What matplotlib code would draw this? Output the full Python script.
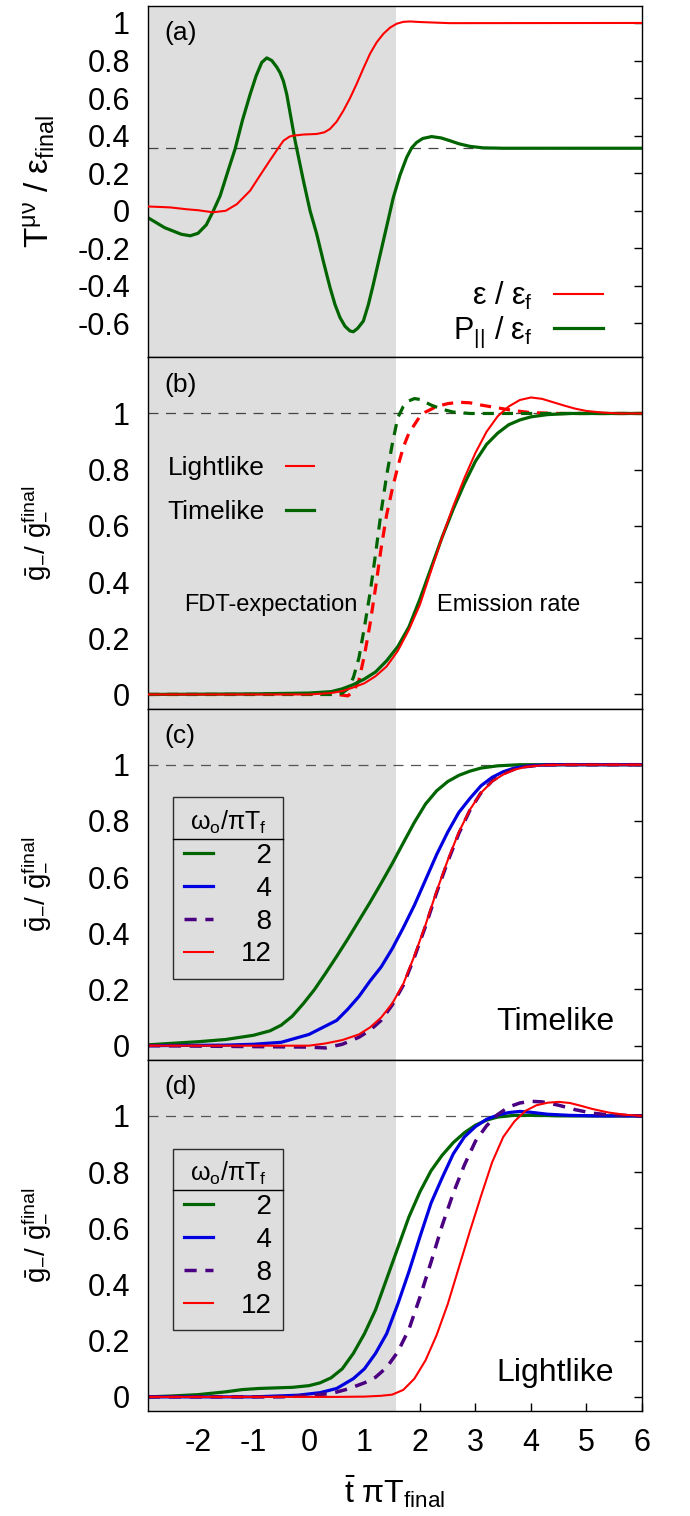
import matplotlib
matplotlib.use('Agg')
import matplotlib.pyplot as plt
from matplotlib.lines import Line2D

plt.rcParams['font.family'] = ['Liberation Sans', 'DejaVu Sans']
plt.rcParams['mathtext.fontset'] = 'custom'
plt.rcParams['mathtext.rm'] = 'Liberation Sans'
plt.rcParams['mathtext.it'] = 'Liberation Sans'
plt.rcParams['axes.unicode_minus'] = False

# ---- data ----
x_range = [-2.9, 6.0]
shade_end = 1.57
ref_a = 1 / 3
ref_bcd = 1.0

# (a) stress tensor components
eps_x = [-2.9, -2.5, -2.2, -2.0, -1.73, -1.5, -1.3, -1.06, -0.9, -0.7, -0.55, -0.46, -0.35, -0.28, -0.1,
         0.14, 0.28, 0.38, 0.5, 0.62, 0.74, 0.86, 0.98, 1.1, 1.22, 1.34, 1.46, 1.58, 1.7, 1.82, 2.0, 2.54, 6.0]
eps_y = [0.023, 0.018, 0.008, 0.003, -0.008, 0.0, 0.035, 0.107, 0.18, 0.27, 0.335, 0.373, 0.395, 0.4, 0.406,
         0.409, 0.418, 0.436, 0.475, 0.533, 0.6, 0.676, 0.758, 0.836, 0.897, 0.942, 0.975, 0.996, 1.006,
         1.008, 1.005, 0.999, 1.0]
pl_x = [-2.9, -2.6, -2.3, -2.14, -2.0, -1.85, -1.73, -1.6, -1.45, -1.33, -1.2, -1.06, -0.95, -0.85, -0.76,
        -0.67, -0.58, -0.52, -0.46, -0.4, -0.25, -0.1, 0.02, 0.14, 0.26, 0.38, 0.47, 0.56, 0.65, 0.74, 0.8,
        0.88, 0.98, 1.07, 1.16, 1.25, 1.34, 1.43, 1.52, 1.64, 1.76, 1.85, 1.94, 2.05, 2.21, 2.38, 2.54, 2.7,
        2.9, 3.14, 3.5, 6.0]
pl_y = [-0.037, -0.09, -0.125, -0.133, -0.12, -0.075, -0.005, 0.08, 0.22, 0.33, 0.48, 0.62, 0.72, 0.79,
        0.814, 0.8, 0.765, 0.735, 0.69, 0.62, 0.373, 0.16, 0.0, -0.124, -0.27, -0.409, -0.5, -0.569, -0.615,
        -0.64, -0.644, -0.625, -0.587, -0.5, -0.391, -0.275, -0.16, -0.045, 0.071, 0.19, 0.284, 0.335,
        0.364, 0.385, 0.395, 0.388, 0.373, 0.357, 0.343, 0.335, 0.333, 0.333]

# (b) FDT expectation (dashed) and emission rate (solid)
fdt_time_x = [-2.9, 0.4, 0.6, 0.7, 0.8, 0.9, 1.0, 1.1, 1.2, 1.3, 1.4, 1.5, 1.6, 1.7, 1.8, 1.9, 2.0, 2.2,
              2.4, 2.6, 2.9, 6.0]
fdt_time_y = [0.0, 0.0, 0.005, 0.02, 0.06, 0.13, 0.24, 0.36, 0.5, 0.65, 0.78, 0.89, 0.985, 1.025, 1.045,
              1.053, 1.05, 1.03, 1.015, 1.005, 1.0, 1.0]
fdt_light_x = [-2.9, 0.5, 0.7, 0.8, 0.9, 1.0, 1.1, 1.2, 1.3, 1.4, 1.5, 1.6, 1.7, 1.8, 1.9, 2.0, 2.1, 2.3,
               2.5, 2.7, 2.9, 3.1, 3.4, 3.7, 4.0, 4.5, 6.0]
fdt_light_y = [0.0, 0.0, -0.005, 0.01, 0.05, 0.14, 0.25, 0.38, 0.52, 0.64, 0.73, 0.81, 0.88, 0.93, 0.96,
               0.99, 1.005, 1.025, 1.035, 1.04, 1.038, 1.03, 1.02, 1.01, 1.003, 1.0, 1.0]
em_time_x = [-2.9, -1.0, 0.0, 0.4, 0.6, 0.8, 1.0, 1.2, 1.4, 1.6, 1.8, 2.0, 2.2, 2.4, 2.6, 2.8, 3.0, 3.2,
             3.4, 3.6, 3.8, 4.0, 4.3, 4.7, 6.0]
em_time_y = [0.0, 0.002, 0.005, 0.01, 0.02, 0.035, 0.055, 0.08, 0.12, 0.17, 0.24, 0.34, 0.45, 0.56, 0.66,
             0.75, 0.83, 0.89, 0.93, 0.96, 0.977, 0.988, 0.996, 1.0, 1.0]
em_light_x = [-2.9, 0.0, 0.4, 0.6, 0.8, 1.0, 1.2, 1.4, 1.6, 1.8, 2.0, 2.2, 2.4, 2.6, 2.8, 3.0, 3.2, 3.4,
              3.6, 3.8, 4.0, 4.2, 4.4, 4.6, 4.8, 5.0, 5.3, 5.6, 6.0]
em_light_y = [0.0, 0.0, 0.005, 0.012, 0.025, 0.04, 0.065, 0.1, 0.155, 0.23, 0.32, 0.44, 0.56, 0.67, 0.77,
              0.86, 0.935, 0.99, 1.025, 1.048, 1.057, 1.052, 1.04, 1.028, 1.017, 1.009, 1.003, 1.0, 1.0]

# (c) timelike, several omega_o / pi T_f
omegas = ['2', '4', '8', '12']
tl_x = [
    [-2.9, -2.5, -2.0, -1.5, -1.0, -0.7, -0.5, -0.3, -0.1, 0.1, 0.3, 0.5, 0.7, 0.9, 1.1, 1.3, 1.5, 1.7,
     1.9, 2.1, 2.3, 2.5, 2.7, 2.9, 3.1, 3.4, 3.8, 6.0],
    [-2.9, -1.5, -1.0, -0.5, 0.0, 0.2, 0.5, 0.7, 0.9, 1.1, 1.3, 1.5, 1.7, 1.9, 2.1, 2.3, 2.5, 2.7, 2.9,
     3.1, 3.3, 3.5, 3.7, 4.0, 4.4, 6.0],
    [-2.9, 0.0, 0.3, 0.6, 0.9, 1.1, 1.3, 1.5, 1.7, 1.9, 2.1, 2.3, 2.5, 2.7, 2.9, 3.1, 3.3, 3.5, 3.7, 3.9,
     4.2, 4.6, 6.0],
    [-2.9, 0.0, 0.3, 0.6, 0.9, 1.1, 1.3, 1.5, 1.7, 1.9, 2.1, 2.3, 2.5, 2.7, 2.9, 3.1, 3.3, 3.5, 3.7, 3.9,
     4.2, 4.6, 6.0],
]
tl_y = [
    [0.003, 0.008, 0.014, 0.022, 0.037, 0.053, 0.073, 0.105, 0.15, 0.2, 0.258, 0.318, 0.38, 0.445, 0.51,
     0.578, 0.648, 0.722, 0.795, 0.86, 0.907, 0.94, 0.962, 0.977, 0.988, 0.996, 1.0, 1.0],
    [0.0, 0.002, 0.005, 0.012, 0.04, 0.06, 0.09, 0.13, 0.175, 0.23, 0.28, 0.345, 0.42, 0.5, 0.59, 0.68,
     0.76, 0.83, 0.88, 0.925, 0.955, 0.975, 0.988, 0.997, 1.0, 1.0],
    [0.0, -0.005, -0.008, 0.005, 0.03, 0.055, 0.09, 0.145, 0.215, 0.315, 0.425, 0.545, 0.655, 0.755,
     0.838, 0.9, 0.942, 0.968, 0.984, 0.993, 0.999, 1.0, 1.0],
    [0.0, 0.0, 0.008, 0.02, 0.04, 0.065, 0.1, 0.15, 0.22, 0.32, 0.43, 0.55, 0.66, 0.76, 0.84, 0.9, 0.94,
     0.965, 0.982, 0.992, 0.998, 1.0, 1.0],
]

# (d) lightlike, same omegas
ll_x = [
    [-2.9, -2.5, -2.0, -1.5, -1.2, -0.9, -0.6, -0.3, 0.0, 0.2, 0.4, 0.6, 0.8, 1.0, 1.2, 1.4, 1.6, 1.8,
     2.0, 2.2, 2.4, 2.6, 2.8, 3.0, 3.2, 3.4, 3.7, 4.1, 4.6, 6.0],
    [-2.9, -1.0, -0.2, 0.2, 0.5, 0.8, 1.0, 1.2, 1.4, 1.6, 1.8, 2.0, 2.2, 2.4, 2.6, 2.8, 3.0, 3.2, 3.4,
     3.6, 3.8, 4.0, 4.3, 4.7, 5.2, 6.0],
    [-2.9, -0.5, 0.0, 0.4, 0.7, 1.0, 1.2, 1.4, 1.6, 1.8, 2.0, 2.2, 2.4, 2.6, 2.8, 3.0, 3.2, 3.4, 3.6,
     3.8, 4.0, 4.2, 4.5, 4.8, 5.1, 5.4, 6.0],
    [-2.9, 0.5, 1.0, 1.3, 1.5, 1.7, 1.9, 2.1, 2.3, 2.5, 2.7, 2.9, 3.1, 3.3, 3.5, 3.7, 3.9, 4.1, 4.3,
     4.5, 4.7, 4.9, 5.1, 5.4, 5.7, 6.0],
]
ll_y = [
    [0.0, 0.003, 0.008, 0.018, 0.026, 0.03, 0.032, 0.034, 0.04, 0.05, 0.068, 0.1, 0.155, 0.225, 0.31,
     0.42, 0.53, 0.64, 0.73, 0.805, 0.86, 0.905, 0.94, 0.967, 0.985, 0.996, 1.002, 1.002, 1.0, 1.0],
    [0.0, 0.0, 0.006, 0.015, 0.03, 0.065, 0.1, 0.155, 0.225, 0.33, 0.445, 0.57, 0.69, 0.78, 0.865, 0.925,
     0.962, 0.988, 1.003, 1.012, 1.016, 1.013, 1.006, 1.002, 1.0, 1.0],
    [0.0, 0.0, 0.005, 0.012, 0.028, 0.05, 0.07, 0.105, 0.16, 0.24, 0.355, 0.48, 0.61, 0.725, 0.825, 0.91,
     0.965, 1.005, 1.032, 1.046, 1.052, 1.05, 1.038, 1.022, 1.01, 1.004, 1.0],
    [0.0, 0.0, 0.001, 0.004, 0.008, 0.025, 0.065, 0.13, 0.22, 0.33, 0.46, 0.59, 0.715, 0.835, 0.925, 0.98,
     1.018, 1.038, 1.047, 1.05, 1.046, 1.036, 1.025, 1.012, 1.004, 1.0],
]

# ---- styling ----
red = '#ff0000'
green = '#006400'
blue = '#0000e0'
purple = '#4b0082'
shade = '#dedede'
omega_colors = [green, blue, purple, red]
omega_widths = [2.3, 2.3, 2.5, 1.5]
omega_styles = ['-', '-', (0, (3.5, 2.5)), '-']
omega_labels = ['  2', '  4', '  8', '12']

fig, axes = plt.subplots(4, 1, sharex=True, figsize=(6.9, 15.16), dpi=100,
                         gridspec_kw=dict(hspace=0))
fig.subplots_adjust(left=0.2145, right=0.9304, top=0.996, bottom=0.0693)
ax_a, ax_b, ax_c, ax_d = axes

for ax, lbl in zip(axes, ['(a)', '(b)', '(c)', '(d)']):
    ax.set_axisbelow(True)
    ax.axvspan(x_range[0], shade_end, color=shade, lw=0, zorder=1)
    ax.tick_params(direction='in', length=6, width=1, right=True, top=False,
                   labelsize=22, pad=13)
    ax.tick_params(axis='x', bottom=False, labelbottom=False)
    for sp in ax.spines.values():
        sp.set_linewidth(1.0)
    ax.set_xlim(x_range)
    ax.text(0.033, 0.922, lbl, transform=ax.transAxes, fontsize=19, ha='left', va='center')

# panel a
ax_a.axhline(ref_a, color='#444444', lw=0.9, ls=(0, (8, 6)), zorder=1.5)
ax_a.plot(eps_x, eps_y, color=red, lw=1.5, label=r'$\mathregular{ε\ /\ ε_f}$', zorder=3)
ax_a.plot(pl_x, pl_y, color=green, lw=2.3, label=r'$\mathregular{P_{||}\ /\ ε_f}$', zorder=2)
ax_a.set_ylim(-0.78, 1.09)
ax_a.set_yticks([-0.6, -0.4, -0.2, 0, 0.2, 0.4, 0.6, 0.8, 1])
ax_a.set_yticklabels(['-0.6', '-0.4', '-0.2', '0', '0.2', '0.4', '0.6', '0.8', '1'])
ax_a.set_ylabel(r'$\mathregular{T^{μν}\ /\ ε_{final}}$', fontsize=24)
ax_a.yaxis.set_label_coords(-0.184, 0.5)
ax_a.legend(loc='lower right', bbox_to_anchor=(0.921, 0.02), frameon=False, markerfirst=False,
            fontsize=22, handlelength=1.6, handletextpad=0.7, labelspacing=0.1,
            borderpad=0, borderaxespad=0)

# panel b
ax_b.axhline(ref_bcd, color='#444444', lw=0.9, ls=(0, (8, 6)), zorder=1.5)
ax_b.plot(fdt_light_x, fdt_light_y, color=red, lw=2.3, ls=(0, (3.5, 2.5)), zorder=2)
ax_b.plot(fdt_time_x, fdt_time_y, color=green, lw=2.3, ls=(0, (3.5, 2.5)), zorder=2)
ax_b.plot(em_light_x, em_light_y, color=red, lw=1.5, label='Lightlike', zorder=3)
ax_b.plot(em_time_x, em_time_y, color=green, lw=2.3, label='Timelike', zorder=2)
ax_b.legend(loc='upper left', bbox_to_anchor=(0.04, 0.719), frameon=False, markerfirst=False,
            fontsize=19, handlelength=1.05, handletextpad=0.8, labelspacing=0.75,
            borderpad=0, borderaxespad=0)
ax_b.text(-0.68, 0.32, 'FDT-expectation', fontsize=17, ha='center', va='center')
ax_b.text(3.6, 0.32, 'Emission rate', fontsize=17, ha='center', va='center')

# panels c and d
legends = []
for ax, xs, ys, name in [(ax_c, tl_x, tl_y, 'Timelike'), (ax_d, ll_x, ll_y, 'Lightlike')]:
    ax.axhline(ref_bcd, color='#555555', lw=0.9, ls=(0, (8, 6)), zorder=1.5)
    for i in range(len(omegas)):
        ax.plot(xs[i], ys[i], color=omega_colors[i], lw=omega_widths[i], ls=omega_styles[i],
                label=omega_labels[i], zorder=2 + (i == 3) * 0.5)
    leg = ax.legend(loc='upper left', bbox_to_anchor=(0.0506, 0.747), title=r'$\mathregular{ω_o/πT_f}$',
                    title_fontsize=18, fontsize=20, frameon=True, fancybox=False, edgecolor='black',
                    facecolor='none', handlelength=1.05, handletextpad=1.0,
                    labelspacing=0.25, borderpad=0.4, borderaxespad=0)
    leg.get_frame().set_linewidth(1.0)
    legends.append(leg)
    ax.text(5.5, 0.085, name, fontsize=23, ha='right', va='center')

for ax in [ax_b, ax_c, ax_d]:
    ax.set_ylim(-0.05, 1.2)
    ax.set_yticks([0, 0.2, 0.4, 0.6, 0.8, 1])
    ax.set_yticklabels(['0', '0.2', '0.4', '0.6', '0.8', '1'])
    ax.set_ylabel(r'$\mathregular{\bar{g}_{-}/\ \bar{g}_{-}^{final}}$', fontsize=20)
    ax.yaxis.set_label_coords(-0.194, 0.5)

ax_d.tick_params(axis='x', bottom=True, labelbottom=True, direction='in', length=6, pad=12)
ax_d.set_xticks([-2, -1, 0, 1, 2, 3, 4, 5, 6])
ax_d.set_xlabel(r'$\mathregular{\bar{t}\ πT_{final}}$', fontsize=23)
ax_d.xaxis.set_label_coords(0.5, -0.18)

# separator under the legend titles
fig.canvas.draw()
W, H = fig.canvas.get_width_height()
for leg in legends:
    fb = leg.get_frame().get_window_extent()
    tb = leg.get_title().get_window_extent()
    t0 = leg.get_texts()[0].get_window_extent()
    y = (tb.y0 + t0.y1) / 2
    fig.add_artist(Line2D([fb.x0 / W, fb.x1 / W], [y / H, y / H], color='black', lw=1.0,
                          transform=fig.transFigure))

fig.savefig('out.png', dpi=100)
